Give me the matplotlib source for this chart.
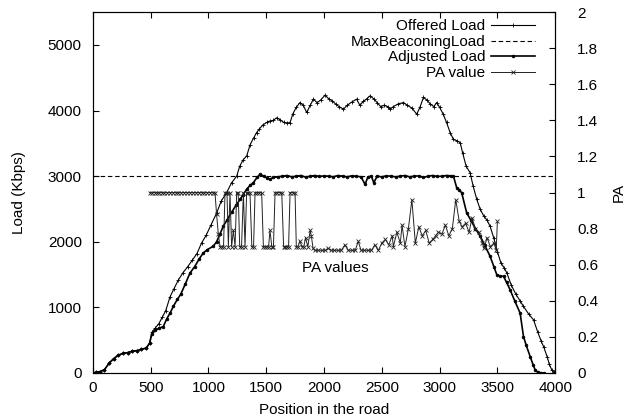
import numpy as np
import matplotlib
matplotlib.use('agg')
import matplotlib.pyplot as plt

# Offered load (position, Kbps)
offered_pos = [0, 30, 60, 100, 140, 180, 220, 260, 300, 340, 380, 420, 460, 490, 510, 537, 570, 600,
               630, 667, 700, 740, 780, 820, 860, 900, 940, 980, 1020, 1071, 1110, 1157, 1200, 1244,
               1270, 1300, 1331, 1360, 1390, 1417, 1440, 1470, 1504, 1530, 1560, 1590, 1620, 1650,
               1680, 1706, 1730, 1760, 1792, 1820, 1850, 1880, 1908, 1940, 1970, 2009, 2040, 2070,
               2100, 2130, 2168, 2200, 2240, 2282, 2310, 2340, 2370, 2398, 2430, 2460, 2490, 2520,
               2550, 2571, 2600, 2640, 2687, 2720, 2760, 2802, 2830, 2860, 2890, 2920, 2950, 2975,
               3000, 3030, 3060, 3091, 3120, 3150, 3178, 3200, 3230, 3264, 3290, 3322, 3350, 3380,
               3410, 3437, 3470, 3500, 3530, 3560, 3582, 3620, 3660, 3700, 3726, 3770, 3813, 3850,
               3880, 3900, 3930, 3950, 3971, 3990]
offered_load = [0, 10, 20, 50, 150, 220, 270, 300, 310, 330, 340, 360, 380, 450, 620, 680, 750, 850,
                950, 1160, 1280, 1420, 1530, 1620, 1720, 1820, 1980, 2100, 2250, 2440, 2620, 2750, 2900, 3000,
                3150, 3250, 3310, 3480, 3580, 3665, 3720, 3780, 3820, 3840, 3850, 3890, 3860, 3820,
                3810, 3817, 3950, 4050, 4123, 4080, 3971, 4080, 4174, 4120, 4160, 4235, 4180, 4150,
                4100, 4060, 4021, 4080, 4130, 4174, 4080, 4140, 4180, 4225, 4180, 4120, 4060, 4080,
                4060, 4021, 4060, 4100, 4123, 4080, 4040, 3945, 4050, 4200, 4160, 4100, 4060, 4123,
                4050, 3950, 3820, 3665, 3560, 3540, 3512, 3350, 3150, 3053, 2850, 2645, 2500, 2400,
                2330, 2237, 2050, 1850, 1680, 1600, 1524, 1340, 1200, 1090, 1014, 900, 810, 620,
                480, 402, 250, 130, 46, 10]

# Adjusted load (position, Kbps)
adjusted_pos = [0, 30, 60, 100, 140, 180, 220, 260, 300, 340, 380, 420, 460, 490, 510, 540, 570, 609,
                640, 670, 695, 730, 760, 800, 840, 880, 920, 955, 990, 1041, 1070, 1100, 1128, 1160,
                1200, 1240, 1273, 1300, 1330, 1360, 1388, 1420, 1446, 1480, 1510, 1532, 1560, 1600,
                1640, 1680, 1720, 1760, 1800, 1840, 1880, 1920, 1960, 2000, 2040, 2080, 2120, 2160,
                2200, 2240, 2280, 2320, 2355, 2380, 2410, 2430, 2460, 2500, 2540, 2580, 2620, 2660,
                2700, 2740, 2780, 2820, 2860, 2900, 2940, 2980, 3020, 3060, 3100, 3120, 3148, 3170,
                3191, 3234, 3270, 3310, 3351, 3390, 3437, 3470, 3495, 3520, 3553, 3580, 3610, 3650,
                3697, 3726, 3750, 3784, 3810, 3827, 3850, 3880, 3900]
adjusted_load = [0, 10, 20, 50, 150, 220, 270, 300, 310, 330, 340, 360, 380, 450, 600, 650, 680, 708,
                 830, 920, 1014, 1120, 1200, 1360, 1524, 1620, 1740, 1830, 1880, 1932, 2000, 2120, 2237, 2330,
                 2450, 2560, 2645, 2720, 2800, 2860, 2900, 2980, 3028, 3000, 2970, 2951, 2980, 2990,
                 3000, 3010, 2990, 3000, 3010, 2985, 3000, 3010, 2995, 3005, 3000, 2990, 3010, 3000,
                 2990, 3005, 3000, 2990, 2875, 2990, 3000, 2900, 3000, 2990, 3005, 3000, 2990, 3000,
                 3010, 2990, 3000, 3005, 2980, 3000, 3010, 2995, 3000, 3010, 3005, 3000, 2824, 2790,
                 2748, 2442, 2330, 2200, 2085, 1950, 1778, 1620, 1498, 1480, 1473, 1380, 1269, 1100,
                 912, 555, 420, 249, 120, 46, 10, 0, 0]

# PA value (position, PA)
pa_pos = [493, 515, 535, 555, 575, 595, 615, 640, 665, 690, 715, 740, 765, 790, 815, 840, 865, 890,
          915, 940, 965, 990, 1015, 1040, 1056, 1070, 1085, 1100, 1115, 1130, 1143, 1160, 1172, 1186,
          1200, 1215, 1230, 1244, 1257, 1270, 1286, 1302, 1316, 1330, 1345, 1359, 1375, 1390, 1403,
          1420, 1440, 1460, 1475, 1490, 1505, 1520, 1532, 1548, 1562, 1576, 1595, 1615, 1634, 1650,
          1665, 1680, 1693, 1706, 1728, 1749, 1760, 1775, 1790, 1810, 1825, 1840, 1860, 1880, 1890,
          1905, 1920, 1950, 1980, 2010, 2035, 2060, 2090, 2120, 2150, 2180, 2210, 2240, 2270, 2296,
          2320, 2350, 2380, 2410, 2440, 2470, 2500, 2530, 2560, 2590, 2600, 2630, 2660, 2675, 2700,
          2730, 2760, 2790, 2820, 2850, 2880, 2910, 2940, 2965, 2990, 3020, 3050, 3080, 3110, 3140,
          3170, 3195, 3225, 3255, 3280, 3310, 3340, 3370, 3385, 3410, 3440, 3470, 3490, 3500]
pa_value = [1.0, 1.0, 1.0, 1.0, 1.0, 1.0, 1.0, 1.0, 1.0, 1.0, 1.0, 1.0, 1.0, 1.0, 1.0, 1.0, 1.0, 1.0,
            1.0, 1.0, 1.0, 1.0, 1.0, 1.0, 1.0, 0.88, 0.77, 0.70, 0.70, 0.70, 1.0, 1.0, 0.70, 1.0,
            0.70, 0.79, 0.70, 1.0, 1.0, 0.70, 0.70, 1.0, 0.70, 1.0, 1.0, 1.0, 0.70, 0.70, 1.0,
            1.0, 1.0, 1.0, 0.70, 0.70, 0.70, 0.70, 0.79, 0.70, 0.70, 1.0, 1.0, 1.0, 1.0, 0.70,
            0.70, 0.70, 0.70, 1.0, 1.0, 1.0, 0.70, 0.70, 0.73, 0.70, 0.70, 0.75, 0.70, 0.79, 0.76,
            0.69, 0.68, 0.68, 0.68, 0.68, 0.69, 0.68, 0.68, 0.68, 0.68, 0.71, 0.68, 0.68, 0.68, 0.73,
            0.68, 0.68, 0.68, 0.68, 0.71, 0.68, 0.72, 0.74, 0.71, 0.76, 0.70, 0.78, 0.72, 0.82, 0.70,
            0.80, 0.96, 0.72, 0.81, 0.76, 0.79, 0.72, 0.74, 0.76, 0.78, 0.77, 0.82, 0.76, 0.80, 0.96,
            0.84, 0.81, 0.83, 0.78, 0.86, 0.80, 0.78, 0.72, 0.69, 0.75, 0.70, 0.72, 0.68, 0.84]

max_beaconing_load = 3000

plt.rcParams['font.family'] = ['Liberation Sans', 'DejaVu Sans']
plt.rcParams['font.size'] = 11

fig = plt.figure(figsize=(6.28, 4.2), dpi=100)
ax = fig.add_axes([0.148, 0.112, 0.736, 0.859])
ax2 = ax.twinx()

l1, = ax.plot(offered_pos, offered_load, color='black', lw=0.8, marker='+', ms=3, mew=0.6,
              label='Offered Load')
l2 = ax.axhline(max_beaconing_load, color='black', lw=0.8, ls=(0, (4, 2.5)), label='MaxBeaconingLoad')
l3, = ax.plot(adjusted_pos, adjusted_load, color='black', lw=1.2, marker='o', ms=2, mew=0.5,
              label='Adjusted Load')
l4, = ax2.plot(pa_pos, pa_value, color='#222222', lw=0.7, marker='x', ms=2.5, mew=0.6,
               label='PA value')

ax.set_xlim(0, 4000)
ax.set_ylim(0, 5500)
ax2.set_ylim(0, 2)
ax.set_xticks(np.arange(0, 4001, 500))
ax.set_yticks(np.arange(0, 5001, 1000))
ax2.set_yticks(np.arange(0, 2.01, 0.2))
ax2.set_yticklabels(['0', '0.2', '0.4', '0.6', '0.8', '1', '1.2', '1.4', '1.6', '1.8', '2'])

ax.tick_params(axis='x', direction='in', top=True, length=4, width=0.8, pad=6)
ax.tick_params(axis='y', direction='in', length=4, width=0.8, pad=8)
ax2.tick_params(axis='y', direction='in', length=4, width=0.8, pad=16)
for a in (ax, ax2):
    for s in a.spines.values():
        s.set_linewidth(0.8)

ax.set_xlabel('Position in the road')
ax.set_ylabel('Load (Kbps)')
ax2.set_ylabel('PA')
ax.xaxis.set_label_coords(0.5, -0.083)
ax.yaxis.set_label_coords(-0.145, 0.5)
ax2.yaxis.set_label_coords(1.122, 0.5)

ax.text(2095, 1600, 'PA values', ha='center', va='center')

leg = ax.legend(handles=[l1, l2, l3, l4], loc='upper right', bbox_to_anchor=(0.957, 0.98),
                frameon=False, markerfirst=False, handlelength=2.9, handletextpad=0.35,
                labelspacing=0.1, borderaxespad=0, borderpad=0)

fig.savefig('out.png', dpi=100)
